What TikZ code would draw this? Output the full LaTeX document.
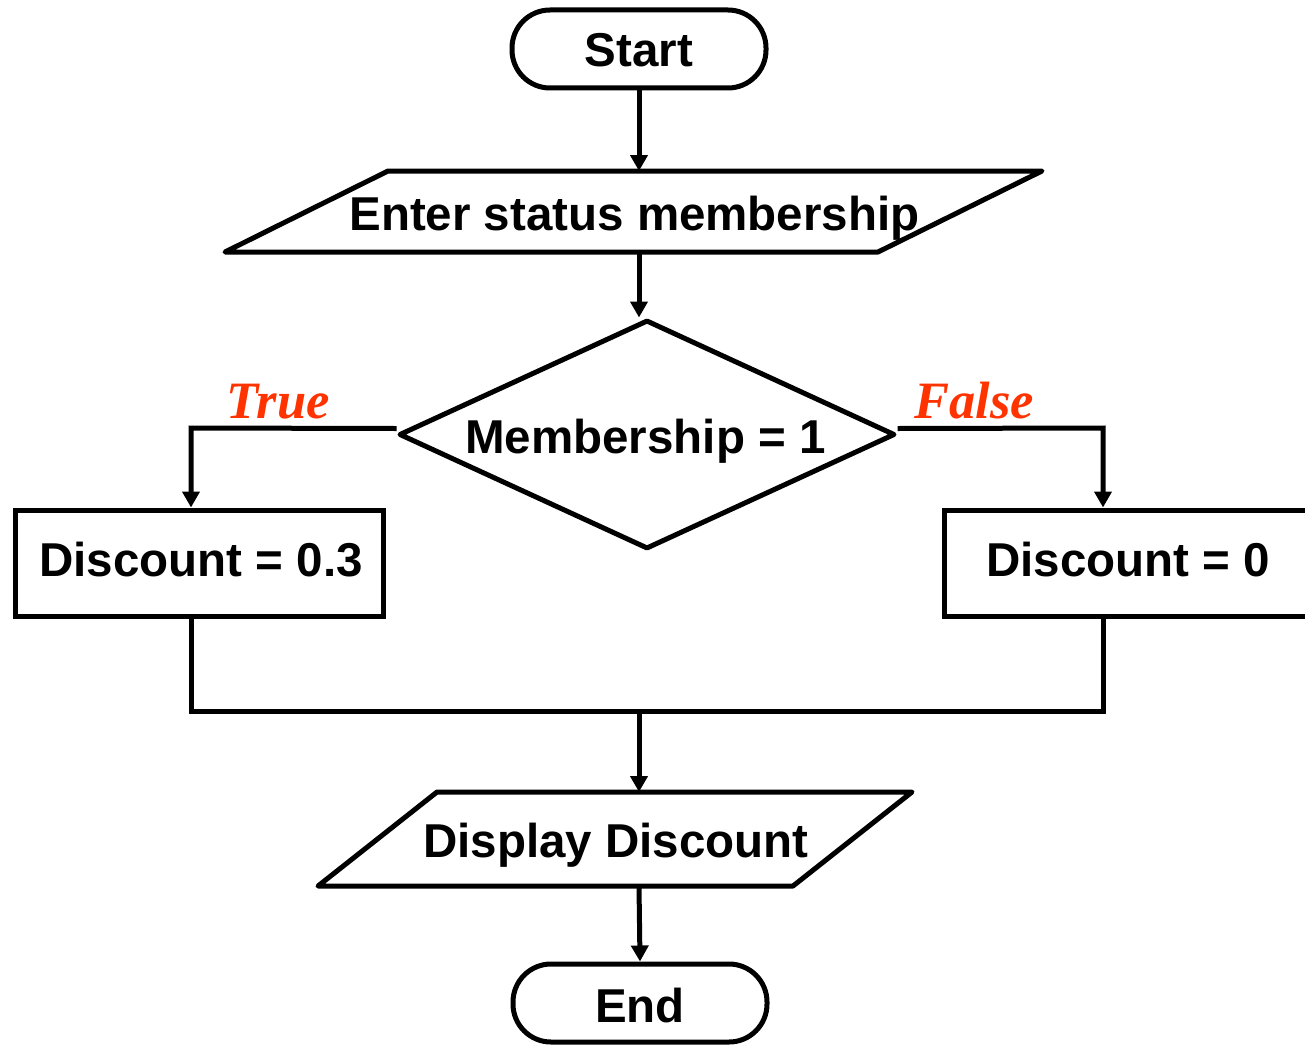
\documentclass[tikz,border=0pt]{standalone}
\usepackage{fontspec}
\setmainfont{Liberation Sans}
\newfontfamily\branchfont{Liberation Serif}
\usetikzlibrary{arrows.meta,shapes.geometric}
\definecolor{branchred}{RGB}{255,51,0}
\begin{document}
\begin{tikzpicture}[x=1pt,y=-1pt,
  outline/.style={draw=black, line width=5pt, inner sep=0pt},
  terminal/.style={outline, rectangle, rounded corners=38pt,
    minimum width=254pt, minimum height=78pt},
  procbox/.style={outline, rectangle, minimum width=368pt, minimum height=106pt},
  decision/.style={outline, diamond, aspect=2.17, line join=round,
    minimum width=496pt, minimum height=229pt},
  iobox/.style={draw=black, line width=5pt, line join=round},
  caption/.style={font=\bfseries\fontsize{47.5}{50}\selectfont,
    inner sep=0pt, anchor=base},
  branch/.style={font=\branchfont\bfseries\itshape\fontsize{52.5}{56}\selectfont,
    text=branchred, inner sep=0pt, anchor=base},
  flow/.style={line width=5pt, -{Triangle[width=17pt,length=16pt]}},
  link/.style={line width=5pt}]

\useasboundingbox (0,0) rectangle (1305,1046);

% terminals, process boxes and the decision
\node[terminal] (start) at (639,49) {};
\node[decision] (dec) at (647,434.5) {};
\node[procbox] (lbox) at (199.5,563) {};
\node[procbox] (rbox) at (1128.5,563) {};
\node[terminal] (finish) at (640,1003) {};

% input/output parallelograms
\draw[iobox] (388,171) -- (1042,171) -- (878,252) -- (225,252) -- cycle;
\draw[iobox] (437,792) -- (912,792) -- (793,886) -- (318,886) -- cycle;
\coordinate (enterTop) at (639,171);
\coordinate (enterBottom) at (639,252);
\coordinate (dispTop) at (639,792);
\coordinate (dispBottom) at (639,886);

% texts
\node[caption] (tStart) at (639,67) {Start};
\node[caption] (tEnter) at (634.5,230) {Enter status membership};
\node[caption] (tDec) at (645.5,453) {Membership = 1};
\node[caption] (tLeft) at (201,576) {Discount = 0.3};
\node[caption] (tRight) at (1128,576) {Discount = 0};
\node[caption] (tDisp) at (616,857) {Display Discount};
\node[caption] (tEnd) at (640,1022) {End};
\node[branch] (tTrue) at (278,418) {True};
\node[branch] (tFalse) at (974,418) {False};

% branch points
\coordinate (tdrop) at (191,428);
\coordinate (fdrop) at (1103,428);
\coordinate (jl) at (191,711);
\coordinate (jr) at (1103,711);
\coordinate (jm) at (639,711);

% connectors
\draw[flow] (start.south) -- (enterTop);
\draw[flow] (enterBottom) -- (enterBottom |- dec.north);
\draw[flow] ([yshift=6pt]dec.west) -- (tdrop) -- (tdrop |- lbox.north);
\draw[flow] ([yshift=6pt]dec.east) -- (fdrop) -- (fdrop |- rbox.north);
\draw[link] (tdrop |- lbox.south) -- (jl) -- (jr) -- (fdrop |- rbox.south);
\draw[flow] (jm) -- (dispTop);
\draw[flow] (dispBottom) -- (finish.north);
\end{tikzpicture}
\end{document}
